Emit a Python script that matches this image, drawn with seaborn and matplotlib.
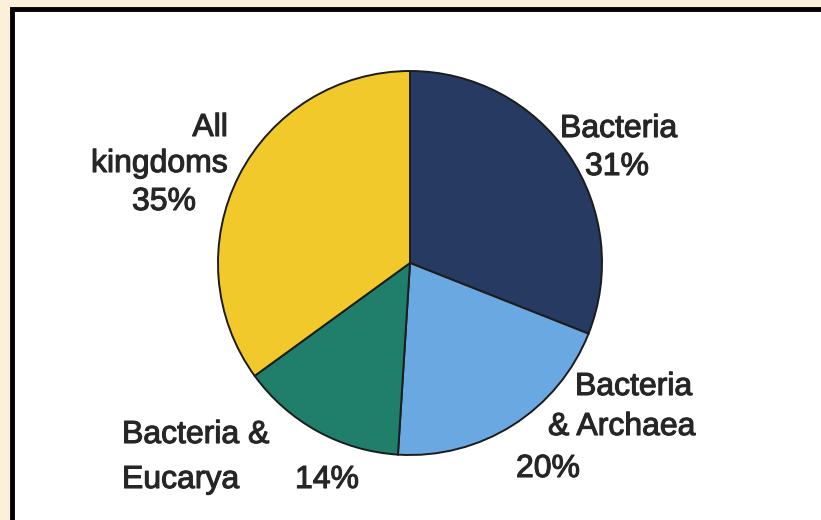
import matplotlib
matplotlib.use("Agg")
import matplotlib.pyplot as plt
import matplotlib.patheffects as pe
import seaborn as sns
from matplotlib.patches import Rectangle

# Data
categories = ["Bacteria", "Bacteria & Archaea", "Bacteria & Eucarya", "All kingdoms"]
shares = [31, 20, 14, 35]
slice_colors = ["#263a62", "#6aa8e2", "#1f7f6b", "#f1c92b"]

W, H = 821, 520

sns.set_theme(style="white")
plt.rcParams['font.family'] = ['Liberation Sans', 'DejaVu Sans']

fig = plt.figure(figsize=(W / 100, H / 100), dpi=100, facecolor="#fdf0da")


def px(x, y):
    # pixel position -> figure fraction
    return x / W, 1 - y / H


# white panel with black frame (runs off the right/bottom edge)
fig.patches.append(Rectangle(px(12, 530), (W + 20) / W, (530 - 9) / H,
                             transform=fig.transFigure, facecolor="white",
                             edgecolor="black", linewidth=3.5, zorder=-5))

# pie axes: centre (410, 263), radius 190 px
cx, cy, r = 410, 263, 192
ax = fig.add_axes([(cx - r) / W, (H - cy - r) / H, 2 * r / W, 2 * r / H])
ax.set_zorder(2)
ax.pie(shares, colors=slice_colors, startangle=90, counterclock=False,
       wedgeprops=dict(edgecolor="#1c1c1c", linewidth=1.4))
ax.set_xlim(-1, 1)
ax.set_ylim(-1, 1)
ax.set_aspect("equal")
ax.axis("off")

pct = [f"{v}%" for v in shares]

# label lines: (text, left/right x, baseline y, ha)
label_lines = [
    ("All", 228, 136, "right"),
    ("kingdoms", 228, 172, "right"),
    (pct[3], 132, 210, "left"),
    ("Bacteria", 560, 137, "left"),
    (pct[0], 585, 175, "left"),
    ("Bacteria", 575, 395, "left"),
    ("& Archaea", 548, 435, "left"),
    (pct[1], 516, 477, "left"),
    ("Bacteria &", 122, 443, "left"),
    ("Eucarya", 122, 488, "left"),
    (pct[2], 295, 488, "left"),
]
for txt, x, y, ha in label_lines:
    fx, fy = px(x, y)
    fig.text(fx, fy, txt, ha=ha, va="baseline", fontsize=23, color="#262626",
             zorder=3,
             path_effects=[pe.withStroke(linewidth=0.8, foreground="#262626")])

fig.savefig("out.png", dpi=100, facecolor=fig.get_facecolor())
